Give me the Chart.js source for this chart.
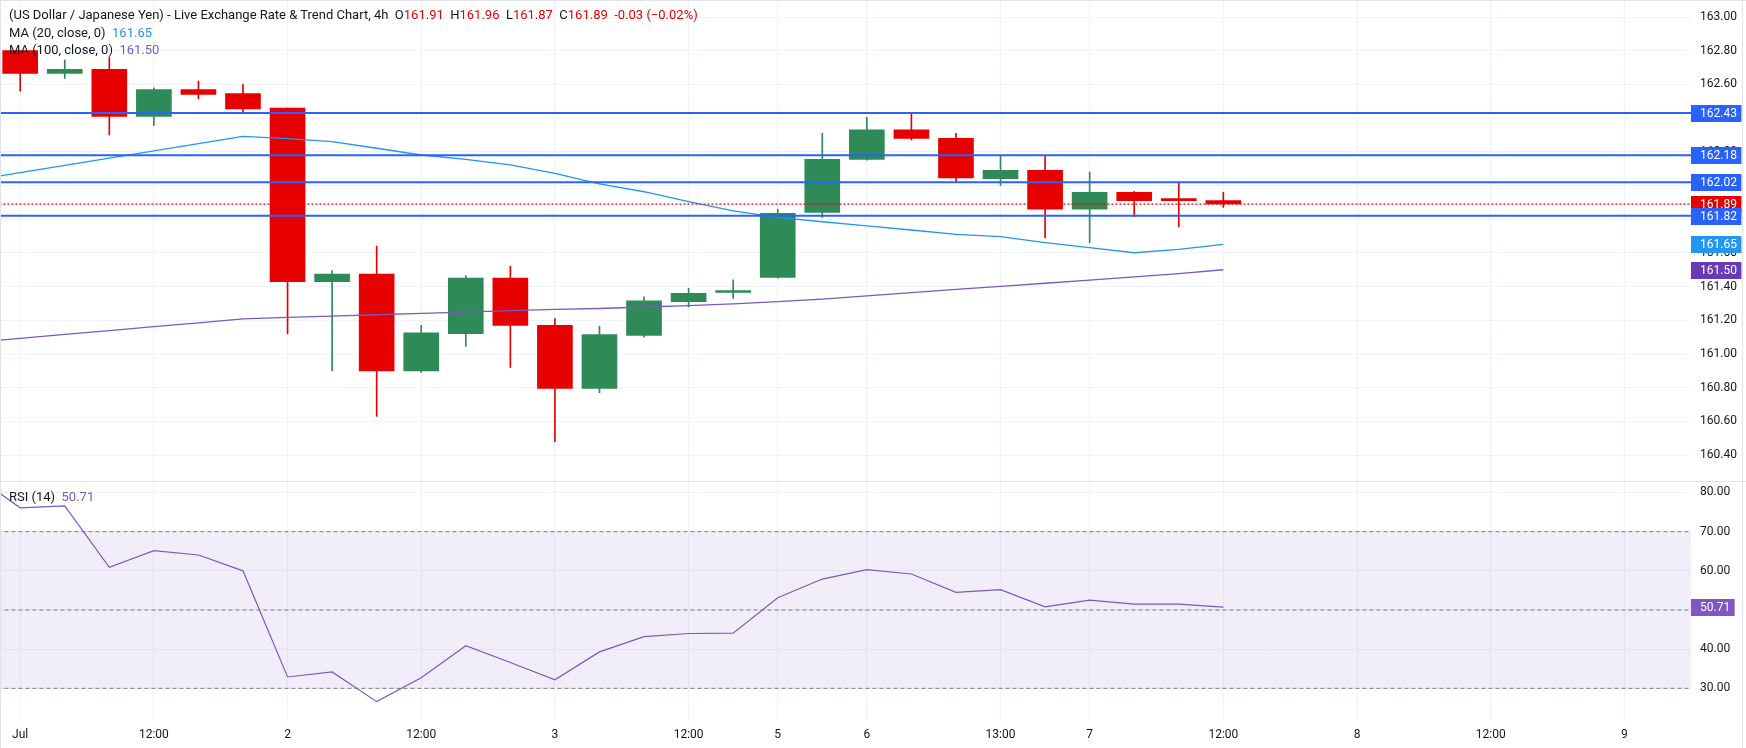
<!DOCTYPE html>
<html>
<head>
<meta charset="utf-8">
<script src="https://cdn.jsdelivr.net/npm/chart.js@4.4.1/dist/chart.umd.min.js"></script>
<style>
html,body{margin:0;padding:0;background:#fff;}
#wrap{position:relative;width:1746px;height:748px;overflow:hidden;background:#fff;font-family:Roboto,"Noto Sans",sans-serif;}
canvas{position:absolute;left:0;}
#c1{top:0;width:1746px;height:481px;}
#c2{top:482px;width:1746px;height:266px;}
.ln{position:absolute;background:#e0e3eb;}
.lg{position:absolute;left:9px;font-size:13px;color:#131722;white-space:pre;line-height:17px;}
.r{color:#e60000;}
.b{color:#2196F3;}
.p{color:#7E57C2;}
</style>
</head>
<body>
<div id="wrap">
<canvas id="c1" width="1746" height="481"></canvas>
<canvas id="c2" width="1746" height="266"></canvas>
<div class="ln" style="left:0;top:481px;width:1746px;height:1px;"></div>
<div class="ln" style="left:0;top:0;width:1746px;height:1px;"></div>
<div class="ln" style="left:0;top:0;width:1px;height:748px;"></div>
<div class="ln" style="left:1742px;top:0;width:1px;height:748px;"></div>
<div class="lg" style="top:6px;">(US Dollar / Japanese Yen) - Live Exchange Rate &amp; Trend Chart, 4h  O<span class="r" id="hO"></span>  H<span class="r" id="hH"></span>  L<span class="r" id="hL"></span>  C<span class="r" id="hC"></span>  <span class="r">-0.03 (−0.02%)</span></div>
<div class="lg" style="top:24px;">MA (20, close, 0)  <span class="b" id="hMa20"></span></div>
<div class="lg" style="top:41px;">MA (100, close, 0)  <span class="p" id="hMa100"></span></div>
<div class="lg" style="top:488px;">RSI (14)  <span class="p" id="hRsi"></span></div>
</div>
<script>
// ---------- data ----------
const barIdx = [0,1,2,3,4,5,6,7,8,9,10,11,12,13,14,15,16,17,18,19,20,21,22,23,24,25,26,27];
const open  = [162.80,162.665,162.69,162.41,162.57,162.545,162.46,161.43,161.475,160.90,161.12,161.45,161.17,160.795,161.11,161.31,161.365,161.455,161.84,162.155,162.33,162.28,162.04,162.09,161.86,161.96,161.915,161.91];
const high  = [162.80,162.745,162.76,162.58,162.62,162.60,162.46,161.495,161.64,161.17,161.465,161.52,161.21,161.165,161.34,161.39,161.44,161.86,162.31,162.405,162.43,162.31,162.18,162.175,162.08,161.965,162.02,161.96];
const low   = [162.56,162.635,162.30,162.355,162.515,162.43,161.12,160.90,160.63,160.89,161.045,160.92,160.48,160.77,161.10,161.28,161.33,161.45,161.81,162.15,162.27,162.02,162.00,161.69,161.66,161.815,161.755,161.87];
const close = [162.665,162.69,162.41,162.57,162.54,162.455,161.43,161.475,160.90,161.125,161.45,161.17,160.795,161.115,161.315,161.36,161.37,161.835,162.155,162.33,162.28,162.045,162.09,161.86,161.96,161.91,161.91,161.89];

const lineIdx = [-1,0,1,2,3,4,5,6,7,8,9,10,11,12,13,14,15,16,17,18,19,20,21,22,23,24,25,26,27];
const ma20  = [162.035,162.076,162.12,162.163,162.205,162.248,162.292,162.278,162.26,162.221,162.181,162.155,162.122,162.072,162.009,161.963,161.904,161.849,161.811,161.785,161.761,161.736,161.71,161.696,161.661,161.631,161.601,161.621,161.65];
const ma100 = [161.07,161.093,161.116,161.139,161.162,161.185,161.209,161.217,161.225,161.233,161.241,161.249,161.257,161.265,161.27,161.279,161.287,161.297,161.311,161.326,161.345,161.364,161.383,161.401,161.42,161.439,161.458,161.477,161.50];
const rsi   = [84.1,76.1,76.6,60.9,65.15,64.05,60.0,32.9,34.2,26.6,32.7,40.9,36.6,32.2,39.3,43.2,44.0,44.1,53.15,57.9,60.3,59.2,54.5,55.2,50.8,52.5,51.5,51.5,50.71];

const levels = [162.43,162.18,162.02,161.82];
const lastPrice = 161.89;
const rsiLevels = [70,50,30];
const rsiBand = [30,70];

const priceTicks = [163.0,162.8,162.6,162.4,162.2,162.0,161.8,161.6,161.4,161.2,161.0,160.8,160.6,160.4];
const rsiTicks = [80,70,60,50,40,30];
const timeTickIdx = [0,3,6,9,12,15,17,19,22,24,27,30,33,36];
const timeTickLbl = ['Jul','12:00','2','12:00','3','12:00','5','6','13:00','7','12:00','8','12:00','9'];

// ---------- style ----------
const GREEN = '#2E8B57', RED = '#e60000', GRID = '#f0f3fa', TXT = '#131722';
const BLUE = '#2962FF', MA20C = '#2196F3', MA100C = '#7E57C2', MA100BOX = '#673AB7', RSIC = '#7E57C2';
const FONT = 'Roboto, "Noto Sans", sans-serif';
const X_MIN = -0.453, X_MAX = 37.495;
const PRICE_MIN = 160.2463, PRICE_MAX = 163.1009;
const RSI_MIN = 21.66, RSI_MAX = 82.68;
const AXIS_W = 55;

const last = barIdx.length - 1;
document.getElementById('hO').textContent = open[last].toFixed(2);
document.getElementById('hH').textContent = high[last].toFixed(2);
document.getElementById('hL').textContent = low[last].toFixed(2);
document.getElementById('hC').textContent = close[last].toFixed(2);
document.getElementById('hMa20').textContent = ma20[ma20.length-1].toFixed(2);
document.getElementById('hMa100').textContent = ma100[ma100.length-1].toFixed(2);
document.getElementById('hRsi').textContent = rsi[rsi.length-1].toFixed(2);

const candleColors = barIdx.map((_, i) => close[i] >= open[i] ? GREEN : RED);
const pts = (xs, ys) => xs.map((x, i) => ({x, y: ys[i]}));
const hline = v => [{x: X_MIN - 1, y: v}, {x: X_MAX + 1, y: v}];

function boxPlugin(boxes) {
  return {
    id: 'valueBoxes',
    afterDraw(chart) {
      const ctx = chart.ctx, ys = chart.scales.y, left = chart.chartArea.right;
      ctx.save();
      ctx.font = '12px ' + FONT;
      ctx.textBaseline = 'middle';
      const placed = boxes.map(b => ({b, py: Math.round(ys.getPixelForValue(b.value)), txt: b.value.toFixed(2)}));
      for (const p of placed) {
        const w = ctx.measureText(p.txt).width;
        ctx.fillStyle = p.b.color;
        ctx.fillRect(left, p.py - 8, 9 + w + 4.5, 17);
      }
      ctx.fillStyle = '#ffffff';
      for (const p of placed) ctx.fillText(p.txt, left + 9, p.py + 0.5);
      ctx.restore();
    }
  };
}

function xScale(showLabels, h) {
  return {
    type: 'linear', min: X_MIN, max: X_MAX, offset: false,
    grid: {color: GRID, drawTicks: false, offset: false},
    border: {display: false},
    ticks: {
      display: showLabels, autoSkip: false, maxRotation: 0, padding: 7,
      color: TXT, font: {family: FONT, size: 12},
      callback: v => { const k = timeTickIdx.indexOf(v); return k >= 0 ? timeTickLbl[k] : ''; }
    },
    afterBuildTicks: s => { s.ticks = timeTickIdx.map(v => ({value: v})); },
    afterFit: s => { s.height = h; s.paddingLeft = 0; s.paddingRight = 0; }
  };
}
function yScale(min, max, ticks) {
  return {
    position: 'right', min, max,
    grid: {color: GRID, drawTicks: false},
    border: {display: false},
    ticks: {autoSkip: false, padding: 9, color: TXT, font: {family: FONT, size: 12}, callback: v => Number(v).toFixed(2)},
    afterBuildTicks: s => { s.ticks = ticks.map(v => ({value: v})); },
    afterFit: s => { s.width = AXIS_W; s.paddingTop = 0; s.paddingBottom = 0; }
  };
}

const common = {
  responsive: false, animation: false, devicePixelRatio: 1, events: [],
  layout: {padding: 0},
  plugins: {legend: {display: false}, tooltip: {enabled: false}, title: {display: false}}
};

// ---------- price chart ----------
const levelSets = levels.map(v => ({
  type: 'line', data: hline(v), borderColor: BLUE, borderWidth: 2, pointRadius: 0, order: 0
}));
new Chart(document.getElementById('c1'), {
  type: 'bar',
  data: {
    datasets: [
      {type: 'bar', data: pts(barIdx, barIdx.map((_, i) => [low[i], high[i]])), backgroundColor: candleColors, barThickness: 1, grouped: false, order: 5},
      {type: 'bar', data: pts(barIdx, barIdx.map((_, i) => [open[i], close[i]])), backgroundColor: candleColors, barThickness: 35, grouped: false, minBarLength: 2, order: 4},
      {type: 'line', data: pts(lineIdx, ma100), borderColor: MA100C, borderWidth: 1.3, pointRadius: 0, tension: 0, order: 2},
      {type: 'line', data: pts(lineIdx, ma20), borderColor: MA20C, borderWidth: 1.3, pointRadius: 0, tension: 0, order: 2},
      {type: 'line', data: hline(lastPrice), borderColor: '#f00000', borderWidth: 1.2, borderDash: [2, 2], pointRadius: 0, order: 1},
      ...levelSets
    ]
  },
  options: Object.assign({}, common, {
    scales: {x: xScale(false, 0), y: yScale(PRICE_MIN, PRICE_MAX, priceTicks)}
  }),
  plugins: [boxPlugin([
    {value: ma100[ma100.length-1], color: MA100BOX},
    {value: ma20[ma20.length-1], color: MA20C},
    {value: lastPrice, color: RED},
    ...levels.map(v => ({value: v, color: BLUE}))
  ])]
});

// ---------- RSI chart ----------
new Chart(document.getElementById('c2'), {
  type: 'line',
  data: {
    datasets: [
      {data: hline(rsiBand[1]), borderColor: '#787B86', borderWidth: 1, borderDash: [4, 3], pointRadius: 0,
       fill: {value: rsiBand[0]}, backgroundColor: 'rgba(126,87,194,0.1)', order: 3},
      ...rsiLevels.filter(v => v !== rsiBand[1]).map(v => ({data: hline(v), borderColor: '#787B86', borderWidth: 1, borderDash: [4, 3], pointRadius: 0, fill: false, order: 2})),
      {data: pts(lineIdx, rsi), borderColor: RSIC, borderWidth: 1.2, pointRadius: 0, tension: 0, fill: false, order: 1}
    ]
  },
  options: Object.assign({}, common, {
    scales: {x: xScale(true, 27), y: yScale(RSI_MIN, RSI_MAX, rsiTicks)}
  }),
  plugins: [boxPlugin([{value: rsi[rsi.length-1], color: RSIC}])]
});
</script>
</body>
</html>
